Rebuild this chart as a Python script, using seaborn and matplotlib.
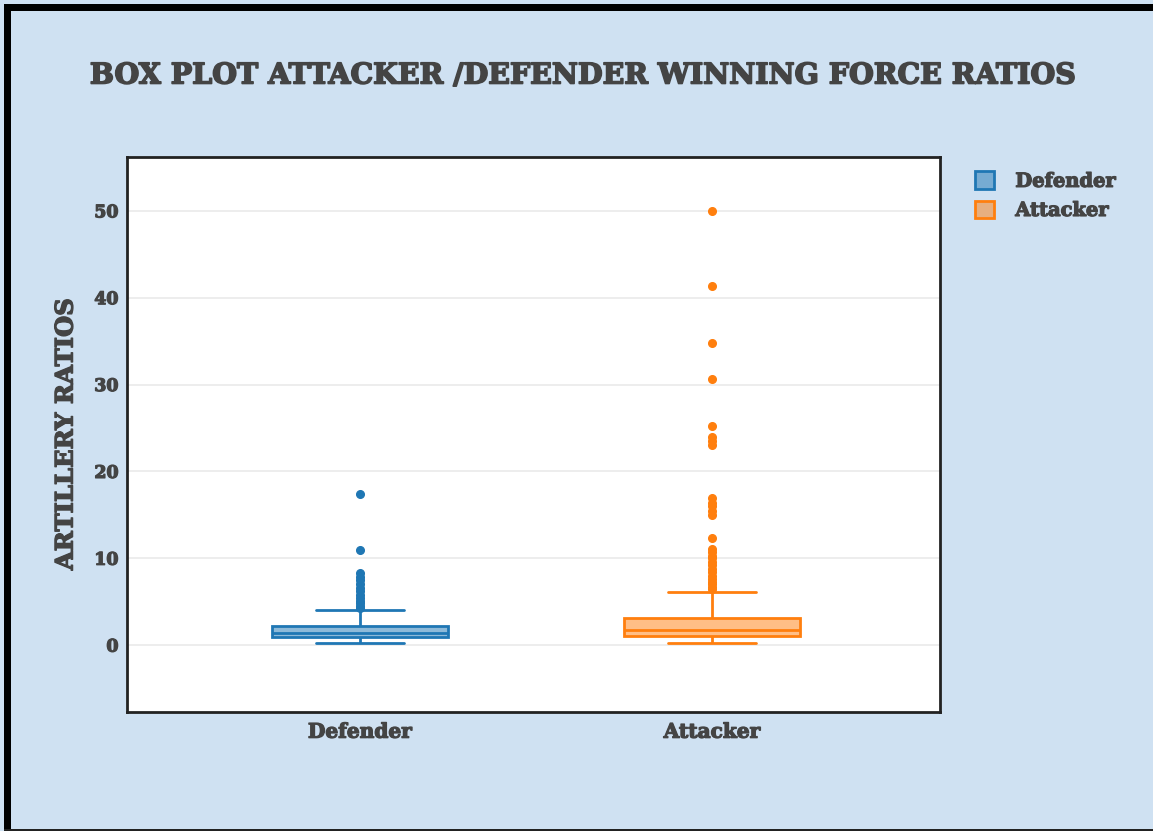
import numpy as np
import pandas as pd
import seaborn as sns
import matplotlib
matplotlib.use("Agg")
import matplotlib.pyplot as plt
import matplotlib.patheffects as pe
from matplotlib.colors import to_rgba
from matplotlib.patches import Patch, Rectangle

categories = ["Defender", "Attacker"]
colors = ["#1f77b4", "#ff7f0e"]

defender_ratios = [
    0.2, 0.3, 0.4, 0.45, 0.5, 0.55, 0.6, 0.62, 0.65, 0.68, 0.7, 0.72, 0.75, 0.78, 0.8, 0.82, 0.85, 0.88, 0.9, 0.92,
    0.95,
    0.97, 1.0, 1.0, 1.02, 1.05, 1.07, 1.1, 1.1, 1.12, 1.15, 1.17, 1.2, 1.2, 1.22, 1.25, 1.27, 1.3, 1.3, 1.33,
    1.35,
    1.4, 1.42, 1.45, 1.5, 1.5, 1.55, 1.6, 1.62, 1.67, 1.7, 1.75, 1.8, 1.85, 1.9, 1.95, 2.0, 2.05, 2.1, 2.15,
    2.2,
    2.4, 2.7, 3.0, 3.3, 3.7, 4.0,
    4.3, 4.5, 4.8, 5.1, 5.4, 5.8, 6.2, 6.6, 7.0, 7.5, 7.9, 8.3, 11.0, 17.4,
]

attacker_ratios = [
    0.27, 0.3, 0.35, 0.4, 0.42, 0.45, 0.5, 0.52, 0.55, 0.58, 0.6, 0.62, 0.65, 0.67, 0.7, 0.72, 0.74, 0.76,
    0.78, 0.8, 0.82, 0.84, 0.86, 0.88, 0.9, 0.91, 0.92, 0.93, 0.95, 0.96, 0.97, 0.98, 1.0, 1.01, 1.02,
    1.04,
    1.05, 1.07, 1.08, 1.1, 1.12, 1.13, 1.15, 1.17, 1.18, 1.2, 1.22, 1.24, 1.25, 1.27, 1.29, 1.3, 1.32, 1.34,
    1.36, 1.38, 1.4, 1.42, 1.44, 1.46, 1.48, 1.5, 1.52, 1.55, 1.58, 1.6, 1.63, 1.65, 1.68, 1.7,
    1.73,
    1.76, 1.8, 1.83, 1.86, 1.9, 1.93, 1.96, 2.0, 2.04, 2.08, 2.12, 2.16, 2.2, 2.25, 2.3, 2.34, 2.38, 2.42,
    2.46, 2.5, 2.54, 2.58, 2.62, 2.66, 2.7, 2.74, 2.78, 2.82, 2.86, 2.9, 2.94, 2.98, 3.02, 3.05,
    3.07,
    3.3, 3.6, 4.0, 4.4, 4.9, 5.5, 6.1,
    6.5, 6.7, 7.0, 7.3, 7.6, 8.0, 8.4, 8.8, 9.2, 9.6, 10.0, 10.3, 10.7, 11.1, 12.3,
    15.0, 15.4, 16.0, 16.4, 16.9, 23.0, 23.5, 24.0, 25.2, 30.6, 34.8, 41.3, 50.0,
]

y_ticks = [0, 10, 20, 30, 40, 50]

df = pd.DataFrame({
    "group": ["Defender"] * len(defender_ratios) + ["Attacker"] * len(attacker_ratios),
    "ratio": defender_ratios + attacker_ratios,
})

sns.set_theme(style="white")
plt.rcParams["font.family"] = ["DejaVu Serif"]

bg = "#cfe1f2"
text_col = "#444444"
heavy = [pe.withStroke(linewidth=0.9, foreground=text_col)]

fig = plt.figure(figsize=(11.53, 8.31), dpi=100, facecolor=bg)
ax = fig.add_axes([127 / 1153, 1 - 712 / 831, (940 - 127) / 1153, (712 - 157) / 831])
ax.set_facecolor("white")

for cat, col in zip(categories, colors):
    sub = df[df["group"] == cat]
    n_before = len(ax.patches)
    sns.boxplot(data=sub, x="group", y="ratio", order=categories, color=col, linecolor=col,
                saturation=1, width=0.5, linewidth=2, fliersize=5.5,
                flierprops=dict(marker="o", markerfacecolor=col, markeredgecolor=col),
                ax=ax)
    for p in ax.patches[n_before:]:
        p.set_facecolor(to_rgba(col, 0.5))
        p.set_edgecolor(col)

ax.set_xlim(-0.662, 1.648)
ax.set_ylim(-7.7, 56.2)
ax.set_yticks(y_ticks)
ax.yaxis.grid(True, color="#eaeaea", linewidth=1.2)
ax.xaxis.grid(False)
ax.set_axisbelow(True)
for s in ax.spines.values():
    s.set_visible(True)
    s.set_color("#222222")
    s.set_linewidth(2)

ax.tick_params(axis="both", length=0, colors=text_col)
ax.tick_params(axis="y", labelsize=12.5, pad=6)
ax.tick_params(axis="x", labelsize=14.5, pad=7)
for lab in ax.get_xticklabels() + ax.get_yticklabels():
    lab.set_fontweight("bold")
    lab.set_color(text_col)
    lab.set_path_effects(heavy)
ax.set_xlabel("")
ax.set_ylabel("ARTILLERY RATIOS", fontsize=17.5, fontweight="bold", color=text_col, labelpad=12,
              path_effects=heavy)

fig.text(0.5065, 1 - 76 / 831, "BOX PLOT ATTACKER /DEFENDER WINNING FORCE RATIOS",
         ha="center", va="center", fontsize=20.5, fontweight="bold", color=text_col,
         path_effects=[pe.withStroke(linewidth=1.2, foreground=text_col)])

handles = [Patch(facecolor=to_rgba(c, 0.5), edgecolor=c, linewidth=2, label=l)
           for c, l in zip(colors, categories)]
leg = fig.legend(handles=handles, loc="upper left", bbox_to_anchor=(957 / 1153, 1 - 154 / 831),
                 frameon=False, prop=dict(weight="bold", size=14), handlelength=1.0, handleheight=1.0,
                 handletextpad=1.1, labelspacing=0.5, labelcolor=text_col)
for t in leg.get_texts():
    t.set_path_effects(heavy)

# figure border
fig.patches.append(Rectangle((4 / 1153, 0), 7 / 1153, 1 - 4 / 831, transform=fig.transFigure,
                             facecolor="black", edgecolor="none", zorder=5))
fig.patches.append(Rectangle((4 / 1153, 1 - 11 / 831), 1 - 4 / 1153, 7 / 831, transform=fig.transFigure,
                             facecolor="black", edgecolor="none", zorder=5))
fig.patches.append(Rectangle((4 / 1153, 0), 1 - 4 / 1153, 2.5 / 831, transform=fig.transFigure,
                             facecolor="#222222", edgecolor="none", zorder=5))

fig.savefig("out.png", dpi=100, facecolor=bg)
